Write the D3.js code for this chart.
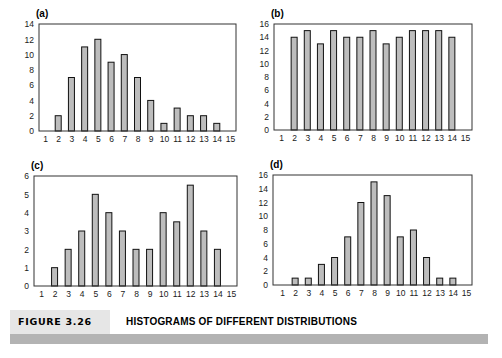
<!DOCTYPE html>
<html lang="en">
<script src="https://d3js.org/d3.v7.min.js"></script>
<style>
  body { margin: 0; background: white; }
  .bar { fill: #bdbdbd; stroke: #111; stroke-width: 1; }
  .frame { fill: none; stroke: #333; stroke-width: 1; }
  .tick text { font-family: "Liberation Sans", Arial, sans-serif; font-size: 8.5px; fill: #1a1a1a; }
</style>
<body>
<svg width="502" height="358" id="fig"></svg>
<script>
  var bins = d3.range(1, 16);
  var distA = [0, 2, 7, 11, 12, 9, 10, 7, 4, 1, 3, 2, 2, 1, 0];
  var distB = [0, 14, 15, 13, 15, 14, 14, 15, 13, 14, 15, 15, 15, 14, 0];
  var distC = [0, 1, 2, 3, 5, 4, 3, 2, 2, 4, 3.5, 5.5, 3, 2, 0];
  var distD = [0, 1, 1, 3, 4, 7, 12, 15, 13, 7, 8, 4, 1, 1, 0];
  var yTicksA = [0, 2, 4, 6, 8, 10, 12, 14];
  var yTicksB = [0, 2, 4, 6, 8, 10, 12, 14, 16];
  var yTicksC = [0, 1, 2, 3, 4, 5, 6];
  var yTicksD = [0, 2, 4, 6, 8, 10, 12, 14, 16];

  var svg = d3.select('#fig');

  var panels = [
    {label: "(a)", data: distA, ticks: yTicksA, left: 39, right: 236, top: 24, bottom: 131, x1: 45, x15: 230},
    {label: "(b)", data: distB, ticks: yTicksB, left: 274, right: 472, top: 24, bottom: 130, x1: 281, x15: 465},
    {label: "(c)", data: distC, ticks: yTicksC, left: 34, right: 237, top: 176, bottom: 286, x1: 41, x15: 231},
    {label: "(d)", data: distD, ticks: yTicksD, left: 273, right: 472, top: 175, bottom: 285, x1: 282, x15: 466}
  ];

  panels.forEach(function(p) {
    var x = d3.scaleLinear().domain([1, 15]).range([p.x1, p.x15]);
    var y = d3.scaleLinear()
      .domain([0, p.ticks[p.ticks.length - 1]])
      .range([p.bottom, p.top]);
    var g = svg.append("g");

    g.selectAll("rect.bar")
      .data(bins.map(function(b, i) { return {bin: b, v: p.data[i]}; }).filter(function(d) { return d.v > 0; }))
      .enter()
      .append("rect")
      .attr("class", "bar")
      .attr("x", function(d) { return x(d.bin) - 3; })
      .attr("width", 6)
      .attr("y", function(d) { return y(d.v); })
      .attr("height", function(d) { return y(0) - y(d.v); });

    g.append("rect")
      .attr("class", "frame")
      .attr("x", p.left).attr("y", p.top)
      .attr("width", p.right - p.left).attr("height", p.bottom - p.top);

    g.append("g")
      .attr("transform", "translate(" + p.left + ",0)")
      .call(d3.axisLeft(y).tickValues(p.ticks).tickSize(0).tickPadding(5).tickFormat(d3.format("d")))
      .call(function(a) { a.select(".domain").remove(); });

    g.append("g")
      .attr("transform", "translate(0," + p.bottom + ")")
      .call(d3.axisBottom(x).tickValues(bins).tickSize(0).tickPadding(5).tickFormat(d3.format("d")))
      .call(function(a) { a.select(".domain").remove(); });

    g.append("text")
      .attr("x", p.left - 3).attr("y", p.top - 7)
      .style("font-family", "Liberation Sans, Arial, sans-serif")
      .style("font-size", "10px").style("font-weight", "bold")
      .text(p.label);
  });

  // caption
  svg.append("rect").attr("x", 10).attr("y", 310).attr("width", 100).attr("height", 24).attr("fill", "#e6e6e6");
  svg.append("rect").attr("x", 10).attr("y", 334).attr("width", 478).attr("height", 10).attr("fill", "#b3b3b3");
  svg.append("text").attr("x", 18).attr("y", 325)
    .style("font-family", "DejaVu Sans, sans-serif").style("font-size", "9.5px")
    .style("font-weight", "bold").style("letter-spacing", "0.7px")
    .text("FIGURE 3.26");
  svg.append("text").attr("x", 126).attr("y", 325)
    .style("font-family", "Liberation Sans Narrow, Liberation Sans, sans-serif").style("font-size", "10px")
    .style("font-weight", "bold").style("letter-spacing", "0.2px")
    .text("HISTOGRAMS OF DIFFERENT DISTRIBUTIONS");
</script>
</body>
</html>
